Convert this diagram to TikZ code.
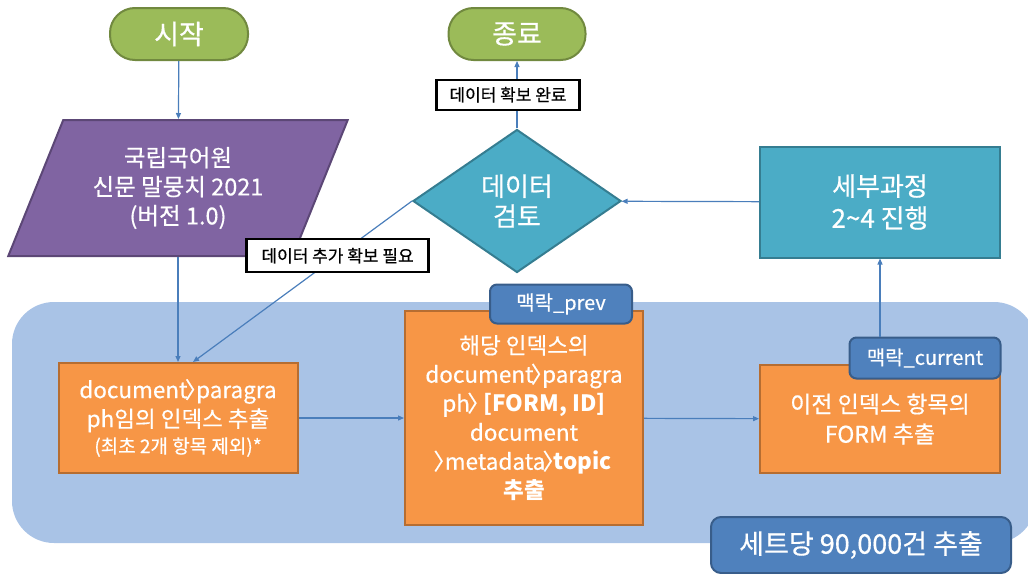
\documentclass[tikz,border=0pt]{standalone}
\usepackage{fontspec}
\usepackage{xcolor}
\setmainfont{Noto Sans CJK KR}[UprightFeatures={FakeBold=0.5}]
\usetikzlibrary{shapes.geometric,arrows.meta}

\definecolor{termfill}{HTML}{9BBB59}
\definecolor{termline}{HTML}{71893F}
\definecolor{datafill}{HTML}{8064A2}
\definecolor{dataline}{HTML}{5C4776}
\definecolor{tealfill}{HTML}{4BACC6}
\definecolor{tealline}{HTML}{357D91}
\definecolor{stepfill}{HTML}{F79646}
\definecolor{stepline}{HTML}{B66D31}
\definecolor{tagfill}{HTML}{4F81BD}
\definecolor{tagline}{HTML}{385D8A}
\definecolor{regionblue}{HTML}{A9C3E6}
\definecolor{linkblue}{HTML}{4A7EBB}

% narrow path separator
\newcommand{\pathsep}{\kern-0.12em〉\kern-0.5em}

\begin{document}
\begin{tikzpicture}[x=1pt, y=-1pt,
    >={Triangle[length=6pt,width=5pt]},
    flow/.style={draw=linkblue, line width=1.2pt},
    term/.style={draw=termline, fill=termfill, line width=2pt, rounded corners=25pt,
        minimum width=138pt, minimum height=52pt, inner sep=0pt, text=white,
        font=\fontsize{27}{30}\selectfont},
    stepbox/.style={draw=stepline, fill=stepfill, line width=2pt, inner sep=0pt,
        text=white, align=center, font=\fontsize{22.5}{29}\selectfont},
    tealbox/.style={draw=tealline, fill=tealfill, line width=2pt, inner sep=0pt,
        text=white, align=center, font=\fontsize{26}{32}\selectfont},
    tag/.style={draw=tagline, fill=tagfill, line width=2pt, rounded corners=7pt,
        inner sep=0pt, text=white, font=\fontsize{20}{22}\selectfont},
    cond/.style={draw=black, fill=white, line width=2.2pt, inner sep=0pt,
        text=black, font=\fontsize{17}{19}\selectfont}]

    \useasboundingbox (0,0) rectangle (1028,573);

    % batch region
    \fill[regionblue, rounded corners=42pt] (12,302) rectangle (1036,543);

    \node[term] (start) at (179,34) {시작};
    \node[term, minimum width=137pt] (stop) at (517,34) {종료};

    \node[trapezium, trapezium left angle=63.5, trapezium right angle=116.5,
        trapezium stretches=true, minimum width=340pt, minimum height=136pt,
        draw=dataline, fill=datafill, line width=2pt, inner sep=0pt, text=white,
        align=center, font=\fontsize{23.5}{29}\selectfont]
        (corpus) at (178,188) {국립국어원\\신문 말뭉치 2021\\(버전 1.0)};

    \node[diamond, aspect=1.45, minimum width=208pt, minimum height=143pt,
        draw=tealline, fill=tealfill, line width=2pt, inner sep=0pt, text=white,
        align=center, font=\fontsize{26}{30}\selectfont]
        (check) at (517,201) {데이터\\검토};

    \node[tealbox, minimum width=240pt, minimum height=111pt] (detail) at (880,202)
        {세부과정\\2\textasciitilde4 진행};

    \node[stepbox, minimum width=239pt, minimum height=110pt] (idx) at (178,418)
        {document\pathsep paragra\\ph임의 인덱스 추출\\[-3pt]{\fontsize{19}{22}\selectfont (최초 2개 항목 제외)*}};
    \node[stepbox, minimum width=238pt, minimum height=214pt] (meta) at (524,418)
        {해당 인덱스의\\document\pathsep paragra\\ph\pathsep\ \textbf{[FORM, ID]}\\document\\\pathsep metadata\pathsep\textbf{topic}\\\textbf{추출}};
    \node[stepbox, minimum width=240pt, minimum height=108pt, font=\fontsize{23}{30}\selectfont]
        (prevform) at (880,419) {이전 인덱스 항목의\\FORM 추출};

    \node[tag, minimum width=142pt, minimum height=39pt] (prevtag) at (561,304) {맥락\_prev};
    \node[tag, minimum width=151pt, minimum height=41pt] (curtag) at (925,358) {맥락\_current};
    \node[tag, rounded corners=10pt, minimum width=300pt, minimum height=56pt,
        font=\fontsize{27}{30}\selectfont] (count) at (861,545) {세트당 90,000건 추출};

    \draw[flow, ->] (start) -- (corpus);
    \draw[flow, ->] (corpus) -- (idx);
    \draw[flow, ->] (check.west) -- ([xshift=15pt]idx.north)
        node[cond, pos=0.34, minimum width=182pt, minimum height=33pt] (more) {데이터 추가 확보 필요};
    \draw[flow, ->] (check) -- (stop)
        node[cond, midway, xshift=-9pt, minimum width=143pt, minimum height=30pt] (done) {데이터 확보 완료};
    \draw[flow, ->] (detail) -- (check);
    \draw[flow, ->] (idx) -- (meta);
    \draw[flow, ->] (meta) -- (prevform);
    \draw[flow, ->] (curtag.north -| detail.south) -- (detail.south);
\end{tikzpicture}
\end{document}
